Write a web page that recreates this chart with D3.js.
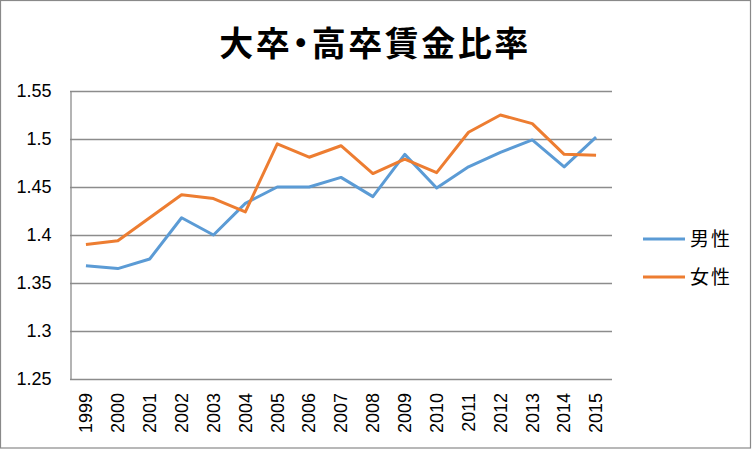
<!DOCTYPE html>
<html><head><meta charset="utf-8">
<script src="https://cdn.jsdelivr.net/npm/d3@7"></script>
<style>html,body{margin:0;padding:0;background:#fff;}</style>
</head><body>
<svg id="c" width="752" height="449"></svg>
<script>
const years = ["1999","2000","2001","2002","2003","2004","2005","2006","2007","2008","2009","2010","2011","2012","2013","2014","2015"];
const male   = [1.368,1.365,1.375,1.418,1.400,1.433,1.450,1.450,1.460,1.440,1.484,1.449,1.471,1.486,1.499,1.471,1.502];
const female = [1.390,1.394,1.418,1.442,1.438,1.424,1.495,1.481,1.493,1.464,1.479,1.465,1.507,1.525,1.516,1.484,1.483];
const seriesNames = ["男性","女性"];
const seriesColors = ["#5B9BD5","#ED7D31"];
const yTicks = [1.25,1.3,1.35,1.4,1.45,1.5,1.55];
const titleText = "大卒・高卒賃金比率";

const svg = d3.select("#c");
const W = 752, H = 449;
const m = {l:70, r:612, t:91, b:379};

svg.append("rect").attr("x",0.5).attr("y",0.5).attr("width",W-2).attr("height",H-1.5)
  .attr("fill","#fff").attr("stroke","#898989").attr("stroke-width",1.2);

const x = d3.scaleBand().domain(years).range([m.l, m.r]);
const y = d3.scaleLinear().domain([1.25,1.55]).range([m.b, m.t]);

// gridlines
svg.append("g").selectAll("line").data(yTicks).join("line")
  .attr("x1",m.l).attr("x2",m.r)
  .attr("y1",d=>Math.round(y(d))+0.5).attr("y2",d=>Math.round(y(d))+0.5)
  .attr("stroke","#8c8c8c").attr("stroke-width",1.3);

// y axis
const yAxis = d3.axisLeft(y).tickValues(yTicks).tickSize(0).tickPadding(19)
  .tickFormat(d=>String(+d.toFixed(2)));
const gy = svg.append("g").attr("transform",`translate(${m.l+0.5},0)`).call(yAxis);
gy.select(".domain").attr("stroke","#8c8c8c").attr("stroke-width",1.3);
gy.selectAll("text").attr("font-family","'Liberation Sans', Arial, sans-serif")
  .attr("font-size",18).attr("fill","#000");

// x axis
const xAxis = d3.axisBottom(x).tickSize(0);
const gx = svg.append("g").attr("transform",`translate(0,${m.b})`).call(xAxis);
gx.select(".domain").remove();
gx.selectAll("text")
  .attr("font-family","'Liberation Sans', Arial, sans-serif").attr("font-size",18).attr("fill","#000")
  .attr("transform","rotate(-90)")
  .attr("text-anchor","end").attr("x",-14).attr("y",0).attr("dy","0.35em");

// lines
const line = d3.line().x((d,i)=>x(years[i])+x.bandwidth()/2).y(d=>y(d));
[male,female].forEach((s,i)=>{
  svg.append("path").datum(s).attr("d",line).attr("fill","none")
    .attr("stroke",seriesColors[i]).attr("stroke-width",3).attr("stroke-linejoin","round");
});

// legend
const lg = svg.append("g");
seriesNames.forEach((n,i)=>{
  const yy = 239 + i*38;
  lg.append("line").attr("x1",643).attr("x2",685).attr("y1",yy).attr("y2",yy)
    .attr("stroke",seriesColors[i]).attr("stroke-width",3);
  lg.append("text").attr("x",690).attr("y",yy).attr("dy","0.36em")
    .attr("font-family","'Noto Sans CJK JP', sans-serif").attr("font-size",19)
    .attr("letter-spacing",2).attr("fill","#000").text(n);
});

// title
const t = svg.append("text").attr("x",375).attr("y",56).attr("text-anchor","middle")
  .attr("font-family","'Noto Sans CJK JP', sans-serif").attr("font-weight","bold")
  .attr("font-size",34).attr("letter-spacing",2.5).attr("fill","#000");
const parts = titleText.split("・");
t.append("tspan").text(parts[0]);
t.append("tspan").style("font-feature-settings","'palt'").text("・");
t.append("tspan").text(parts[1]);
</script>
</body></html>
